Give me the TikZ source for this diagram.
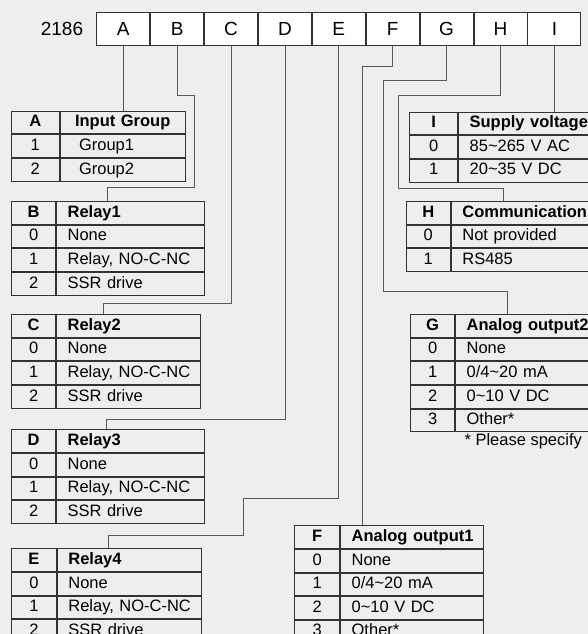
\documentclass[tikz,border=0pt]{standalone}
\usepackage{fontspec}
\setmainfont{Liberation Sans}
\usepackage{tikz}
\usetikzlibrary{positioning}
\definecolor{paper}{HTML}{EFEEEC}
\definecolor{frame}{HTML}{333333}
\definecolor{wiregray}{HTML}{5A5A5A}
\newcommand{\celltext}{\fontsize{16.5}{18}\selectfont}
\newcommand{\boxtext}{\fontsize{19}{21}\selectfont}
\tikzset{
  hbox/.style={draw=frame,fill=white,line width=0.9pt,minimum width=53pt,minimum height=33pt,inner sep=0pt,font=\boxtext},
  codecell/.style={draw=frame,line width=0.9pt,minimum width=#1,minimum height=22.75pt,inner sep=0pt,text height=12pt,text depth=3.5pt,font=\celltext},
  textcell/.style={draw=frame,line width=0.9pt,text width=#1,minimum height=22.75pt,inner sep=0pt,align=left,text height=12pt,text depth=3.5pt,font=\celltext,execute at begin node={\hspace*{11pt}}},
  headrow/.style={font=\celltext\bfseries},
  wire/.style={draw=wiregray,line width=0.8pt}
}
\begin{document}
\begin{tikzpicture}[x=1pt,y=-1pt]
\useasboundingbox (0,0) rectangle (588,634);
\fill[paper] (0,0) rectangle (588,634);
\clip (0,0) rectangle (588,634);
% ordering code
\node[font=\boxtext] (pn) at (62,29) {2186};
\node[hbox] (hA) at (123.2,28.5) {A};
\node[hbox,right=0pt of hA] (hB) {B};
\node[hbox,right=0pt of hB] (hC) {C};
\node[hbox,right=0pt of hC] (hD) {D};
\node[hbox,right=0pt of hD] (hE) {E};
\node[hbox,right=0pt of hE] (hF) {F};
\node[hbox,right=0pt of hF] (hG) {G};
\node[hbox,right=0pt of hG] (hH) {H};
\node[hbox,right=0pt of hH] (hI) {I};
% A: input group
\node[codecell=47.7pt,headrow,anchor=north west] (tAk) at (11,110.7) {A};
\node[textcell=125.6pt,headrow,right=0pt of tAk] (tA) {\hspace*{4pt}Input Group};
\node[codecell=47.7pt,below=0pt of tAk] (tA1k) {1};
\node[textcell=125.6pt,right=0pt of tA1k] (tA1) {\hspace*{8pt}Group1};
\node[codecell=47.7pt,below=0pt of tA1k] (tA2k) {2};
\node[textcell=125.6pt,right=0pt of tA2k] (tA2) {\hspace*{8pt}Group2};
% B: relay 1
\node[codecell=44.3pt,headrow,anchor=north west] (tBk) at (11,201) {B};
\node[textcell=147.7pt,headrow,right=0pt of tBk] (tB) {Relay1};
\node[codecell=44.3pt,below=0pt of tBk] (tB0k) {0};
\node[textcell=147.7pt,right=0pt of tB0k] (tB0) {None};
\node[codecell=44.3pt,below=0pt of tB0k] (tB1k) {1};
\node[textcell=147.7pt,right=0pt of tB1k] (tB1) {Relay, NO-C-NC};
\node[codecell=44.3pt,below=0pt of tB1k] (tB2k) {2};
\node[textcell=147.7pt,right=0pt of tB2k] (tB2) {SSR drive};
% C: relay 2
\node[codecell=44.3pt,headrow,anchor=north west] (tCk) at (11,314) {C};
\node[textcell=144pt,headrow,right=0pt of tCk] (tC) {Relay2};
\node[codecell=44.3pt,below=0pt of tCk] (tC0k) {0};
\node[textcell=144pt,right=0pt of tC0k] (tC0) {None};
\node[codecell=44.3pt,below=0pt of tC0k] (tC1k) {1};
\node[textcell=144pt,right=0pt of tC1k] (tC1) {Relay, NO-C-NC};
\node[codecell=44.3pt,below=0pt of tC1k] (tC2k) {2};
\node[textcell=144pt,right=0pt of tC2k] (tC2) {SSR drive};
% D: relay 3
\node[codecell=44.3pt,headrow,anchor=north west] (tDk) at (11,429.3) {D};
\node[textcell=147.7pt,headrow,right=0pt of tDk] (tD) {Relay3};
\node[codecell=44.3pt,below=0pt of tDk] (tD0k) {0};
\node[textcell=147.7pt,right=0pt of tD0k] (tD0) {None};
\node[codecell=44.3pt,below=0pt of tD0k] (tD1k) {1};
\node[textcell=147.7pt,right=0pt of tD1k] (tD1) {Relay, NO-C-NC};
\node[codecell=44.3pt,below=0pt of tD1k] (tD2k) {2};
\node[textcell=147.7pt,right=0pt of tD2k] (tD2) {SSR drive};
% E: relay 4
\node[codecell=45pt,headrow,anchor=north west] (tEk) at (11,548.3) {E};
\node[textcell=144pt,headrow,right=0pt of tEk] (tE) {Relay4};
\node[codecell=45pt,below=0pt of tEk] (tE0k) {0};
\node[textcell=144pt,right=0pt of tE0k] (tE0) {None};
\node[codecell=45pt,below=0pt of tE0k] (tE1k) {1};
\node[textcell=144pt,right=0pt of tE1k] (tE1) {Relay, NO-C-NC};
\node[codecell=45pt,below=0pt of tE1k] (tE2k) {2};
\node[textcell=144pt,right=0pt of tE2k] (tE2) {SSR drive};
% F: analog output 1
\node[codecell=45pt,headrow,anchor=north west] (tFk) at (294.3,525.3) {F};
\node[textcell=142.4pt,headrow,right=0pt of tFk] (tF) {Analog output1};
\node[codecell=45pt,below=0pt of tFk] (tF0k) {0};
\node[textcell=142.4pt,right=0pt of tF0k] (tF0) {None};
\node[codecell=45pt,below=0pt of tF0k] (tF1k) {1};
\node[textcell=142.4pt,right=0pt of tF1k] (tF1) {0/4\textasciitilde 20 mA};
\node[codecell=45pt,below=0pt of tF1k] (tF2k) {2};
\node[textcell=142.4pt,right=0pt of tF2k] (tF2) {0\textasciitilde 10 V DC};
\node[codecell=45pt,below=0pt of tF2k] (tF3k) {3};
\node[textcell=142.4pt,right=0pt of tF3k] (tF3) {Other*};
% G: analog output 2
\node[codecell=44.3pt,headrow,anchor=north west] (tGk) at (410,314) {G};
\node[textcell=150pt,headrow,right=0pt of tGk] (tG) {Analog output2};
\node[codecell=44.3pt,below=0pt of tGk] (tG0k) {0};
\node[textcell=150pt,right=0pt of tG0k] (tG0) {None};
\node[codecell=44.3pt,below=0pt of tG0k] (tG1k) {1};
\node[textcell=150pt,right=0pt of tG1k] (tG1) {0/4\textasciitilde 20 mA};
\node[codecell=44.3pt,below=0pt of tG1k] (tG2k) {2};
\node[textcell=150pt,right=0pt of tG2k] (tG2) {0\textasciitilde 10 V DC};
\node[codecell=44.3pt,below=0pt of tG2k] (tG3k) {3};
\node[textcell=150pt,right=0pt of tG3k] (tG3) {Other*};
\node[font=\celltext,anchor=west] (gnote) at (461,441.7) {* Please specify};
% H: communication
\node[codecell=44.3pt,headrow,anchor=north west] (tHk) at (405.7,201) {H};
\node[textcell=150pt,headrow,right=0pt of tHk] (tH) {Communication};
\node[codecell=44.3pt,below=0pt of tHk] (tH0k) {0};
\node[textcell=150pt,right=0pt of tH0k] (tH0) {Not provided};
\node[codecell=44.3pt,below=0pt of tH0k] (tH1k) {1};
\node[textcell=150pt,right=0pt of tH1k] (tH1) {RS485};
% I: supply voltage
\node[codecell=48pt,headrow,anchor=north west] (tIk) at (409.3,111.5) {I};
\node[textcell=150pt,headrow,right=0pt of tIk] (tI) {Supply voltage};
\node[codecell=48pt,below=0pt of tIk] (tI0k) {0};
\node[textcell=150pt,right=0pt of tI0k] (tI0) {85\textasciitilde 265 V AC};
\node[codecell=48pt,below=0pt of tI0k] (tI1k) {1};
\node[textcell=150pt,right=0pt of tI1k] (tI1) {20\textasciitilde 35 V DC};
% connectors
\draw[wire] (hA.south) -- (hA.south |- tA.north);
\draw[wire] (hB.south) |- (194.3,95.7) |- (107.7,187.7) -- (107.7,0 |- tB.north);
\draw[wire] (hC.south) |- (103.7,303.3) -- (103.7,0 |- tC.north);
\draw[wire] (hD.south) |- (106.3,419) -- (106.3,0 |- tD.north);
\draw[wire] (hE.south) |- (243.7,498.3) |- (108.3,535) -- (108.3,0 |- tE.north);
\draw[wire] (hF.south) |- (362.5,66.7) -- (362.5,0 |- tF.north);
\draw[wire] (hG.south) |- (383,80.7) |- (507.7,291) -- (507.7,0 |- tG.north);
\draw[wire] (hH.south) |- (398,95.7) |- (503.3,188.3) -- (503.3,0 |- tH.north);
\draw[wire] (hI.south) -- (hI.south |- tI.north);
\end{tikzpicture}
\end{document}
